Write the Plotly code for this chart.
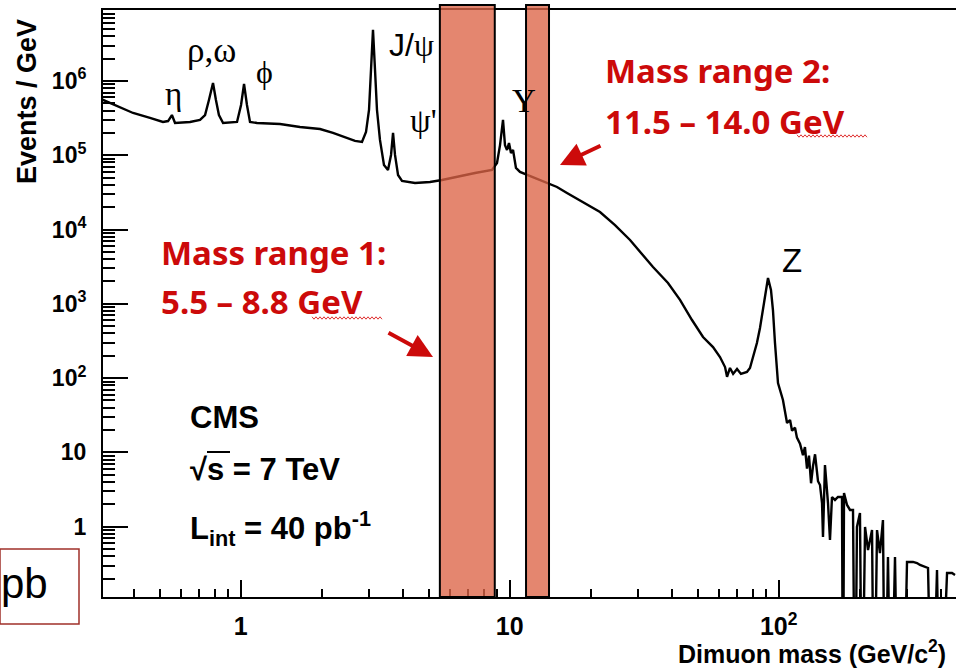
import numpy as np
import plotly.graph_objects as go

# Dimuon invariant-mass spectrum (events per GeV)
mass_gev = [
    0.30, 0.356, 0.398, 0.460, 0.514, 0.537, 0.555, 0.570, 0.648, 0.706,
    0.737, 0.762, 0.789, 0.809, 0.830, 0.860, 0.969, 1.003, 1.029, 1.055,
    1.083, 1.150, 1.400, 1.661, 1.972, 2.203, 2.442, 2.660, 2.824, 2.923,
    2.999, 3.051, 3.103, 3.157, 3.211, 3.294, 3.409, 3.528, 3.621, 3.684,
    3.747, 3.845, 3.978, 4.446, 5.055, 5.602, 6.536, 7.430, 8.595, 8.97,
    9.205, 9.443, 9.605, 9.772, 9.94, 10.11, 10.29, 10.55, 10.92, 11.90,
    13.53, 14.99, 16.33, 19.05, 21.66, 24.63, 28.01, 34.10, 38.77, 42.97,
    47.61, 52.32, 57.0, 60.5, 63.17, 64.26, 65.9, 67.7, 70.0, 72.4,
    76.2, 78.2, 80.25, 82.99, 85.2, 87.45, 88.96, 91.25, 93.6, 95.2,
    96.87, 99.4, 103.7, 107.4, 110.2, 112.1, 115.0, 116.9, 120.0, 123.1,
    125.2, 127.4, 129.6, 131.9, 134.1, 136.5, 140.0, 142.4, 144.9, 146.1,
    148.6, 152.5, 155.1, 157.8, 161.9, 166.1, 171.9, 173.4, 174.9, 179.5,
    184.1, 188.9, 192.1, 195.4, 200.5, 204.0, 209.4, 214.8, 222.3, 226.1,
    232.0, 237.9, 244.1, 248.4, 254.8, 261.5, 270.6, 277.7, 290.0, 299.9,
    315.7, 326.7, 335.2, 349.9, 359.0, 371.5, 387.7, 397.8, 422.5, 440.9,
    452.3,
]
events_per_gev = [
    5.8e5, 4.47e5, 3.71e5, 3.18e5, 2.81e5, 2.89e5, 3.48e5, 2.72e5, 2.81e5, 2.99e5,
    3.48e5, 5.55e5, 9.4e5, 5.55e5, 3.48e5, 2.72e5, 2.81e5, 4.75e5, 9.1e5, 4.75e5,
    2.81e5, 2.72e5, 2.64e5, 2.40e5, 2.26e5, 2.00e5, 1.76e5, 1.56e5, 1.51e5, 2.06e5,
    4.07e5, 1.41e6, 4.87e6, 1.41e6, 4.07e5, 1.61e5, 7.4e4, 6.34e4, 1.01e5, 2.0e5,
    1.01e5, 5.43e4, 4.51e4, 4.24e4, 4.37e4, 4.65e4, 5.26e4, 5.77e4, 6.34e4, 7.87e4,
    1.37e5, 2.99e5, 1.37e5, 1.18e5, 1.46e5, 1.07e5, 1.18e5, 6.75e4, 5.96e4, 5.26e4,
    4.37e4, 3.74e4, 3.10e4, 2.28e4, 1.72e4, 1.15e4, 7.23e3, 3.13e3, 1.91e3, 1.13e3,
    606, 358, 262, 192, 141, 104, 137, 114, 133, 114,
    121, 137, 192, 297, 473, 879, 1399, 2228, 1536, 826,
    297, 86, 50.7, 24.9, 27.3, 19.6, 21.5, 15.8, 13.1, 9.2,
    11.8, 6.04, 9.04, 3.84, 6.51, 9.44, 4.09, 3.64, 2.08, 0.726,
    6.77, 2.08, 0.662, 2.51, 2.29, 2.51, 2.51, 0, 2.84, 1.96,
    1.68, 1.68, 0, 0.99, 1.53, 0, 0.99, 0.485, 0.90, 0,
    0.90, 0.442, 1.23, 0, 0.391, 0, 0.391, 0, 0, 0.335,
    0.335, 0.324, 0.305, 0.287, 0.278, 0, 0.261, 0, 0.238, 0.238,
    0.224,
]

# Selected mass windows (GeV)
window_1 = (5.5, 8.8)
window_2 = (11.5, 14.0)

# Axis ticks
x_major = [1, 10, 100]
x_major_text = ["1", "10", "10<sup>2</sup>"]
x_minor = [0.4, 0.5, 0.6, 0.7, 0.8, 0.9, 2, 3, 4, 5, 6, 7, 8, 9,
           20, 30, 40, 50, 60, 70, 80, 90, 200, 300, 400]
y_major = [1, 10, 1e2, 1e3, 1e4, 1e5, 1e6]
y_major_text = ["1", "10", "10<sup>2</sup>", "10<sup>3</sup>", "10<sup>4</sup>",
                "10<sup>5</sup>", "10<sup>6</sup>"]
y_minor = [m * 10.0 ** e for e in range(-1, 7) for m in range(2, 10)]

# Page geometry (pixels)
W, H = 956, 669
ML, MR, MT, MB = 103, 0, 10, 72
PW, PH = W - ML - MR, H - MT - MB


def px(x):
    return (x - ML) / PW


def py(y):
    return (H - MB - y) / PH


# Empty bins drop to the bottom of the log axis
ev = np.array(events_per_gev, dtype=float)
ev_plot = np.where(ev > 0, ev, 1e-3)

fig = go.Figure()
fig.add_trace(go.Scatter(
    x=mass_gev, y=ev_plot, mode="lines",
    line=dict(color="black", width=2.4), showlegend=False, hoverinfo="skip",
))

x_lo = -0.5119
x_hi = x_lo + PW / 269.0
y_lo = -0.9467
y_hi = y_lo + PH / 74.28

axis_font = dict(family="Liberation Sans", color="black", weight="bold")

fig.update_xaxes(
    type="log", range=[x_lo, x_hi],
    tickmode="array", tickvals=x_major, ticktext=x_major_text,
    ticks="inside", ticklen=17, tickwidth=2, tickcolor="black",
    ticklabelstandoff=6,
    showline=True, linewidth=2, linecolor="black", mirror=True,
    showgrid=False, zeroline=False,
    tickfont=dict(size=25, **axis_font),
    minor=dict(tickmode="array", tickvals=x_minor, ticks="inside", ticklen=8,
               tickwidth=2, tickcolor="black", showgrid=False),
)
fig.update_yaxes(
    type="log", range=[y_lo, y_hi],
    tickmode="array", tickvals=y_major, ticktext=y_major_text,
    ticks="inside", ticklen=25, tickwidth=2, tickcolor="black",
    ticklabelstandoff=10,
    showline=True, linewidth=2, linecolor="black", mirror=False,
    showgrid=False, zeroline=False,
    tickfont=dict(size=23, **axis_font),
    minor=dict(tickmode="array", tickvals=y_minor, ticks="inside", ticklen=12,
               tickwidth=2, tickcolor="black", showgrid=False),
)

shapes = []
# Highlighted mass windows, reaching a little above the frame
for lo, hi in (window_1, window_2):
    shapes.append(dict(
        type="rect", xref="x", yref="paper", x0=lo, x1=hi, y0=0, y1=py(5),
        fillcolor="rgba(220,100,70,0.78)", line=dict(color="black", width=2),
        layer="above",
    ))

# Boxed fragment at the lower left
shapes.append(dict(
    type="rect", xref="paper", yref="paper", x0=px(0), x1=px(79),
    y0=py(624), y1=py(549), fillcolor="white",
    line=dict(color="#A0302A", width=1.5), layer="above",
))


def squiggle(x0, x1, y):
    pts = []
    k = 0
    x = x0
    while x <= x1:
        yy = y + (1.2 if k % 2 else -1.2)
        pts.append(f"{px(x):.5f},{py(yy):.5f}")
        x += 2
        k += 1
    return "M" + " L".join(pts)


for (a, b, yy) in ((312, 382, 318), (797, 867, 136)):
    shapes.append(dict(type="path", xref="paper", yref="paper",
                       path=squiggle(a, b, yy),
                       line=dict(color="#E03030", width=1)))

# Vinculum of the square root
shapes.append(dict(type="line", xref="paper", yref="paper",
                   x0=px(207), x1=px(230), y0=py(452), y1=py(452),
                   line=dict(color="black", width=2)))

fig.update_layout(shapes=shapes)

ann = []


def label(text, x, y, size, family="Liberation Sans", color="black",
          weight="normal", xanchor="center"):
    ann.append(dict(
        text=text, xref="paper", yref="paper", x=px(x), y=py(y),
        xanchor=xanchor, yanchor="middle", showarrow=False,
        font=dict(family=family, size=size, color=color, weight=weight),
    ))


serif = "Liberation Serif"
# Resonance labels
label("η", 173, 94, 33, serif)
label("ρ,ω", 211, 50, 35, serif)
label("ϕ", 264, 72, 32, serif)
label("J/<span style='font-family:Liberation Serif'>ψ</span>", 411, 45, 32)
label("ψ'", 423, 121, 33, serif)
label("Υ", 524, 101, 33, serif)
label("Z", 792, 260, 33)

# Mass-window captions
red = "#CC0A0A"
label("Mass range 2:", 603, 71, 33, "Noto Sans", red, "bold", "left")
label("11.5 – 14.0 GeV", 603, 121, 33, "Noto Sans", red, "bold", "left")
label("Mass range 1:", 159, 252, 33, "Noto Sans", red, "bold", "left")
label("5.5 – 8.8 GeV", 159, 301, 33, "Noto Sans", red, "bold", "left")

# Experiment block
label("CMS", 188, 417, 31, weight="bold", xanchor="left")
label("√s = 7 TeV", 188, 470, 31, weight="bold", xanchor="left")
label("L<sub>int</sub> = 40 pb<sup>-1</sup>", 188, 528, 31, weight="bold",
      xanchor="left")

label("pb", 50, 583, 42, xanchor="right")

# Axis titles
ann.append(dict(
    text="Dimuon mass (GeV/c<sup>2</sup>)", xref="paper", yref="paper",
    x=px(948), y=py(652), xanchor="right", yanchor="middle", showarrow=False,
    font=dict(size=25, **axis_font),
))
ann.append(dict(
    text="Events / GeV", xref="paper", yref="paper", x=px(27), y=py(102),
    xanchor="center", yanchor="middle", textangle=-90, showarrow=False,
    font=dict(size=27, **axis_font),
))

# Arrows pointing at the windows
for tip, dx, dy in (((433, 357), -46, -25), ((560, 165), 42, -20)):
    ann.append(dict(
        text="", xref="paper", yref="paper", x=px(tip[0]), y=py(tip[1]),
        ax=dx, ay=dy, showarrow=True, arrowhead=2, arrowsize=1.2,
        arrowwidth=4, arrowcolor="#CC0A0A", standoff=0,
    ))

fig.update_layout(
    annotations=ann,
    width=W, height=H,
    margin=dict(l=ML, r=MR, t=MT, b=MB),
    paper_bgcolor="white", plot_bgcolor="white",
    showlegend=False,
)

fig.write_html("out.html")
